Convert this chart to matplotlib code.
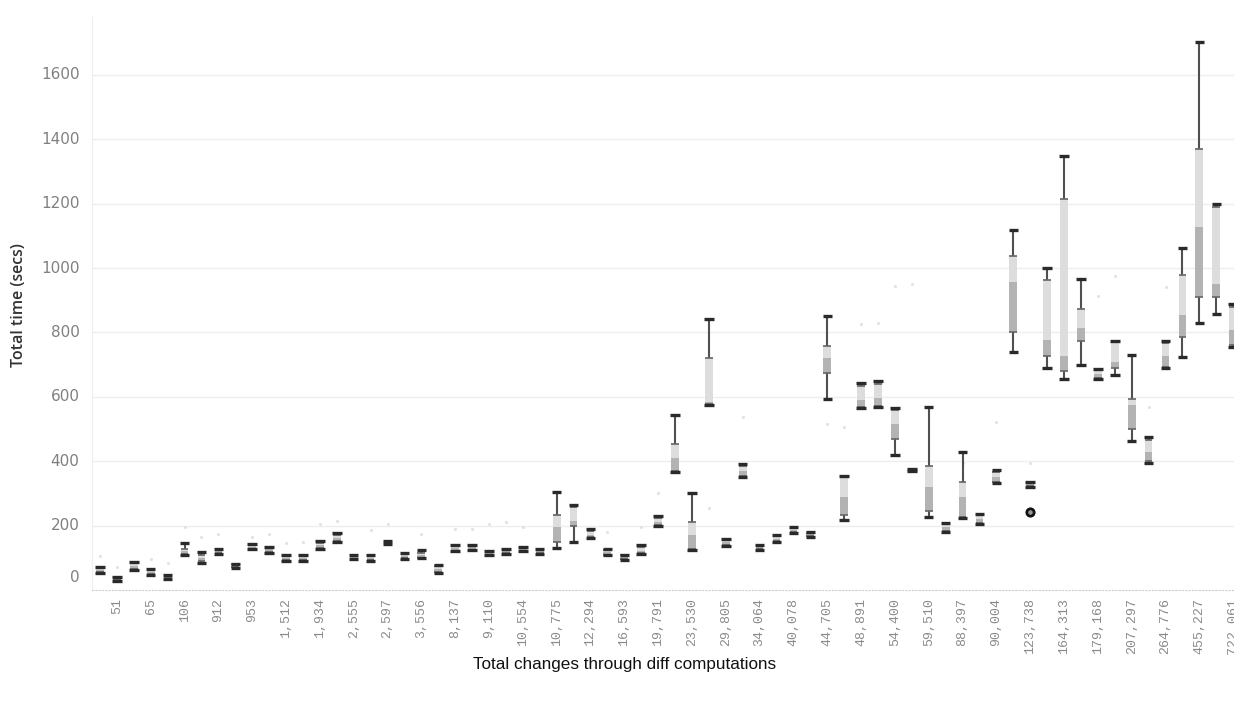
import numpy as np
import matplotlib.pyplot as plt
from matplotlib.transforms import blended_transform_factory

# tick labels (every second group is labelled)
labels = ["51", "65", "106", "912", "953", "1,512", "1,934", "2,555", "2,597",
          "3,556", "8,137", "9,110", "10,554", "10,775", "12,294", "16,593",
          "19,791", "23,530", "29,805", "34,064", "40,078", "44,705", "48,891",
          "54,400", "59,510", "88,397", "90,004", "123,738", "164,313",
          "179,168", "207,297", "264,776", "455,227", "722,061"]

# box statistics per group, seconds
whisker_lo = [52, 28, 62, 48, 34, 110, 84, 113, 68, 126,
              116, 91, 90, 128, 150, 95, 90, 142, 96, 98,
              52, 120, 123, 108, 113, 120, 113, 130, 149, 161,
              108, 93, 113, 199, 366, 124, 575, 138, 351, 125,
              150, 178, 166, 593, 217, 566, 570, 418, 370, 228,
              180, 224, 205, 332, 740, 320, 690, 655, 699, 655,
              668, 464, 394, 689, 725, 830, 856, 755]
q1 = [55, 30, 65, 50, 36, 113, 90, 115, 70, 128,
      118, 93, 92, 130, 152, 97, 92, 143, 98, 100,
      55, 122, 125, 110, 115, 122, 115, 149, 200, 165,
      110, 95, 115, 202, 370, 126, 577, 140, 355, 127,
      152, 180, 168, 674, 233, 570, 573, 470, 371, 245,
      183, 228, 208, 336, 802, 322, 727, 680, 773, 660,
      690, 500, 400, 692, 785, 911, 911, 760]
median = [62, 34, 75, 56, 40, 120, 100, 121, 75, 134,
          127, 100, 100, 140, 163, 102, 100, 146, 106, 108,
          65, 130, 133, 115, 121, 127, 121, 196, 215, 172,
          118, 102, 122, 212, 410, 170, 585, 148, 370, 133,
          160, 186, 174, 720, 290, 590, 595, 515, 372, 320,
          195, 290, 220, 350, 957, 328, 776, 727, 813, 670,
          709, 574, 430, 727, 854, 1128, 950, 807]
q3 = [68, 38, 85, 62, 45, 128, 108, 127, 80, 140,
      133, 108, 108, 145, 170, 108, 108, 150, 112, 115,
      75, 138, 138, 120, 125, 131, 125, 233, 258, 182,
      124, 108, 133, 225, 453, 211, 720, 158, 385, 138,
      168, 193, 178, 758, 350, 635, 640, 558, 373, 385,
      205, 335, 232, 368, 1037, 333, 963, 1216, 872, 683,
      770, 593, 465, 768, 978, 1370, 1190, 880]
whisker_hi = [70, 40, 88, 64, 47, 146, 118, 129, 82, 142,
              135, 110, 110, 152, 177, 110, 110, 152, 115, 124,
              78, 140, 140, 122, 127, 133, 127, 304, 264, 189,
              126, 110, 140, 230, 543, 300, 842, 160, 391, 140,
              170, 195, 180, 851, 355, 642, 649, 565, 375, 568,
              208, 428, 235, 373, 1118, 335, 1000, 1349, 967, 686,
              775, 730, 476, 775, 1063, 1703, 1199, 888]

outlier_idx = [55]
outlier_val = [242]

# individual runs drawn as faint marks
faint_idx = [0, 1, 3, 4, 5, 6, 7, 9, 10, 11, 12, 13, 14, 16, 17, 19, 21, 22,
             23, 24, 25, 29, 30, 32, 33, 36, 38, 43, 44, 45, 46, 47, 48, 51,
             53, 55, 59, 60, 62, 63]
faint_val = [105, 72, 95, 85, 195, 165, 175, 165, 175, 145, 150, 205, 215,
             185, 205, 175, 190, 190, 205, 210, 195, 185, 180, 195, 300, 255,
             537, 515, 506, 826, 829, 945, 950, 394, 522, 394, 913, 975, 570,
             942]

x = np.arange(len(q1))
wlo = np.array(whisker_lo)
whi = np.array(whisker_hi)
b1 = np.array(q1)
md = np.array(median)
b3 = np.array(q3)

fig = plt.figure(figsize=(12.34, 7.03), dpi=100)
ax = fig.add_axes([0.0746, 0.1607, 0.9254, 0.8151])

ax.set_xlim(-0.47, 67.05)
ax.set_ylim(0, 1780)

for v in range(200, 1801, 200):
    ax.axhline(v, color="#eeeeee", lw=1, zorder=0)

ax.scatter(faint_idx, faint_val, s=5, color="#e2e2e2", zorder=1, linewidths=0)

bw = 0.46
cw = 0.28
ax.bar(x, md - b1, bottom=b1, width=bw, color="#b3b3b3", zorder=2)
ax.bar(x, b3 - md, bottom=md, width=bw, color="#dddddd", zorder=2)
ax.vlines(x, wlo, b1, color="#505050", lw=1.5, zorder=3)
ax.vlines(x, b3, whi, color="#505050", lw=1.5, zorder=3)
ax.hlines(b1, x - bw / 2, x + bw / 2, color="#666666", lw=1.2, zorder=3)
ax.hlines(b3, x - bw / 2, x + bw / 2, color="#666666", lw=1.2, zorder=3)
ax.hlines(wlo, x - cw, x + cw, color="#2a2a2a", lw=2.4, zorder=4)
ax.hlines(whi, x - cw, x + cw, color="#2a2a2a", lw=2.4, zorder=4)

ax.scatter(outlier_idx, outlier_val, s=28, facecolors="#999999",
           edgecolors="#111111", linewidths=2, zorder=5)

# axes styling
for s in ["top", "right"]:
    ax.spines[s].set_visible(False)
ax.spines["left"].set_color("#eeeeee")
ax.spines["bottom"].set_color("#cccccc")
ax.spines["bottom"].set_linestyle((0, (1, 2)))

ax.set_xticks(x[1::2])
ax.set_xticklabels(labels, rotation=90, family="Liberation Mono",
                   fontsize=9.5, color="#8a8a8a")
ax.tick_params(axis="x", length=0, pad=6)

ax.set_yticks([])
trans = blended_transform_factory(ax.transAxes, ax.transData)
for v in range(0, 1601, 200):
    dy = 9 if v == 0 else 0
    ax.annotate(str(v), xy=(0, v), xycoords=trans, xytext=(-9, dy),
                textcoords="offset points", ha="right", va="center",
                fontsize=11, color="#808080", family="DejaVu Sans")

fig.text(19 / 1234, 1 - 305 / 703, "Total time (secs)", rotation=90,
         ha="center", va="center", fontsize=11.5, color="#333333",
         family="Open Sans", fontweight="semibold")
fig.text(625 / 1234, 1 - 664 / 703, "Total changes through diff computations",
         ha="center", va="center", fontsize=12.3, color="#111111",
         family="Liberation Sans")

fig.savefig("out.png", dpi=100)
